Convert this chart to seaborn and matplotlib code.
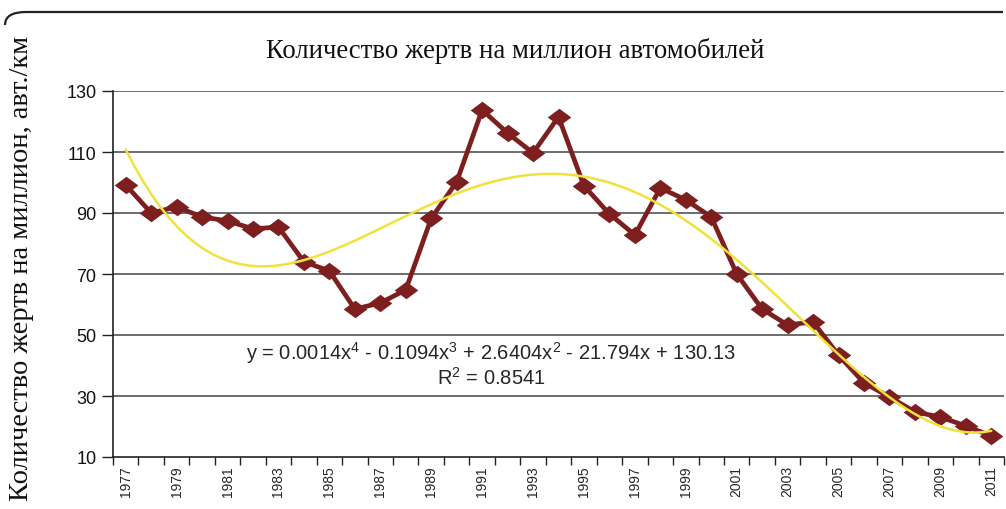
import numpy as np
import pandas as pd
import matplotlib
matplotlib.use('Agg')
import matplotlib.pyplot as plt
import seaborn as sns
from matplotlib.path import Path
from matplotlib.patches import PathPatch

# --- Dados ---
years = list(range(1977, 2012))
victims = [99.2, 90.0, 92.0, 88.7, 87.4, 84.8, 85.4, 74.0, 71.0, 58.5,
           60.5, 64.8, 88.2, 100.2, 123.8, 116.2, 109.7, 121.5, 98.9, 89.7,
           82.8, 98.2, 94.3, 88.7, 70.0, 58.5, 53.3, 54.3, 43.4, 34.3,
           29.7, 24.8, 23.1, 20.2, 16.9]
y_ticks = [10, 30, 50, 70, 90, 110, 130]
title = 'Количество жертв на миллион автомобилей'
y_label = 'Количество жертв на миллион, авт./км'
eq_text = 'y = 0.0014x$^4$ - 0.1094x$^3$ + 2.6404x$^2$ - 21.794x + 130.13'
r2_text = 'R$^2$ = 0.8541'

df = pd.DataFrame({'x': np.arange(1, len(years) + 1), 'year': years, 'value': victims})

sns.set_style('white')
plt.rcParams['font.family'] = ['Liberation Sans', 'DejaVu Sans']
plt.rcParams['mathtext.fontset'] = 'custom'
plt.rcParams['mathtext.rm'] = 'Liberation Sans'
plt.rcParams['mathtext.it'] = 'Liberation Sans'
plt.rcParams['mathtext.default'] = 'regular'

fig = plt.figure(figsize=(10.06, 5.10), dpi=100)
ax = fig.add_axes([113 / 1006, 1 - 458 / 510, (1004 - 113) / 1006, (458 - 92) / 510])

# marcador em losango mais largo que alto (como no Excel)
diamond = [(-1.35, 0), (0, 1), (1.35, 0), (0, -1), (-1.35, 0)]

sns.lineplot(data=df, x='x', y='value', ax=ax, color='#7d1f1f', lw=3.4,
             marker=diamond, markersize=17, markeredgewidth=0, zorder=3)
sns.regplot(data=df, x='x', y='value', order=4, ci=None, scatter=False, ax=ax,
            line_kws=dict(color='#f0e23c', lw=1.8, zorder=4))

ax.set_xlim(0.5, len(years) + 0.5)
ax.set_ylim(10, 130)
ax.set_yticks(y_ticks)
ax.set_yticklabels([str(v) for v in y_ticks], fontsize=13, color='#111')
for v in y_ticks[1:]:
    ax.axhline(v, color='#444', lw=1.1, zorder=1)

ax.set_xticks(df['x'][::2])
ax.set_xticklabels([str(y) for y in years[::2]], rotation=90, fontsize=10)
ax.set_xticks(np.arange(0.5, len(years) + 1), minor=True)
ax.tick_params(axis='x', which='major', length=0, pad=6)
ax.tick_params(axis='x', which='minor', length=6, width=1, color='#222', direction='out', bottom=True)
ax.tick_params(axis='y', length=8, width=1, color='#222', direction='out', left=True, pad=4)

ax.set_xlabel('')
ax.set_ylabel('')
for side in ['top', 'right']:
    ax.spines[side].set_visible(False)
for side in ['left', 'bottom']:
    ax.spines[side].set_color('#222')
    ax.spines[side].set_linewidth(1.2)

ax.text(0.424, 0.287, eq_text, transform=ax.transAxes, ha='center', va='center', fontsize=14.5)
ax.text(0.424, 0.219, r2_text, transform=ax.transAxes, ha='center', va='center', fontsize=14.5)

fig.text(515 / 1006, 1 - 51 / 510, title, ha='center', va='center', color='#111',
         fontsize=19.3, family=['Liberation Serif', 'DejaVu Serif'])
fig.text(22 / 1006, 1 - 268 / 510, y_label, ha='center', va='center', rotation=90,
         color='#111', fontsize=20.5, family=['Liberation Serif', 'DejaVu Serif'])

# moldura arredondada no topo
verts = [(5 / 1006, 1 - 26 / 510), (5 / 1006, 1 - 13 / 510), (26 / 1006, 1 - 13 / 510),
         (1003 / 1006, 1 - 13 / 510)]
codes = [Path.MOVETO, Path.CURVE3, Path.CURVE3, Path.LINETO]
fig.patches.append(PathPatch(Path(verts, codes), transform=fig.transFigure,
                             fill=False, lw=1.6, color='#222'))

fig.savefig('out.png', dpi=100)
